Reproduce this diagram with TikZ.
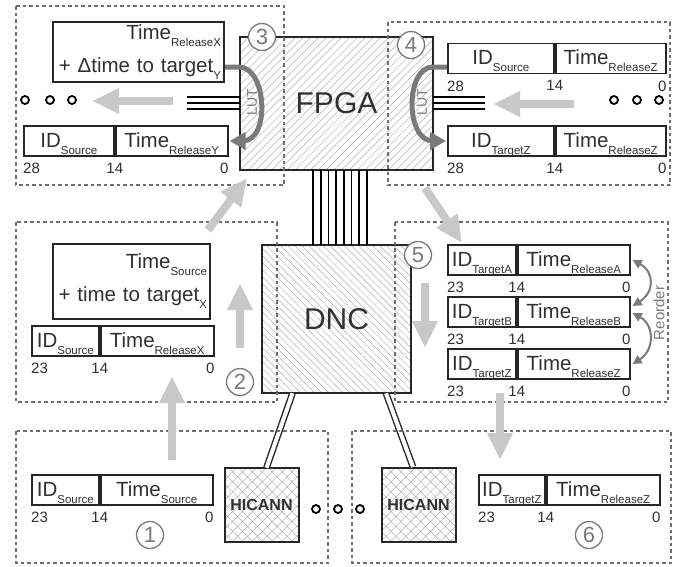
\documentclass[tikz,border=0pt]{standalone}
\usepackage{fontspec}
\setmainfont{Liberation Sans}
\usetikzlibrary{arrows.meta, patterns.meta, calc}
\definecolor{textgray}{HTML}{303030}
\definecolor{framegray}{HTML}{6E6E6E}
\definecolor{arrowgray}{HTML}{C8C8C8}
\definecolor{lutgray}{HTML}{7A7A7A}
\definecolor{hatchgray}{HTML}{B0B0B0}

\newcommand{\lowsub}[1]{\raisebox{-7pt}{\fontsize{11.5}{11.5}\selectfont #1}}
% bit positions under a record: name, id cell, time cell, top bit
\newcommand{\bitrow}[4]{%
  \node[bitnum, anchor=north west] (#1-hi) at ([yshift=-6pt]#2.south west) {#4};
  \node[bitnum, anchor=north] (#1-mid) at ([yshift=-6pt]#2.south east) {14};
  \node[bitnum, anchor=north east] (#1-lo) at ([yshift=-6pt]#3.south east) {0};}

\begin{document}
\begin{tikzpicture}[x=1pt, y=-1pt,
    chip/.style={draw=black!85, line width=2pt, pattern color=hatchgray,
                 inner sep=0pt, text=textgray},
    region/.style={draw=framegray, line width=2.6pt, dash pattern=on 3.5pt off 3pt},
    cell/.style={draw=black!85, line width=1.8pt, minimum height=30pt, inner sep=0pt,
                 text height=18pt, text depth=6pt, text=textgray, anchor=west,
                 font=\fontsize{20.5}{20.5}\selectfont},
    bitnum/.style={inner sep=0pt, text=textgray, font=\fontsize{15}{15}\selectfont},
    calcbox/.style={draw=black!85, line width=1.8pt, inner sep=0pt, align=right,
                    text=textgray, font=\fontsize{20.5}{33}\selectfont},
    numcirc/.style={circle, draw=lutgray, line width=1.3pt, fill=white, minimum size=27pt,
                    inner sep=0pt, text=lutgray, font=\fontsize{22}{22}\selectfont},
    bigarrow/.style={draw=arrowgray, line width=8pt, -{Triangle[length=27pt, width=24pt]}},
    lut/.style={draw=lutgray, line width=5pt, -{Triangle[length=16pt, width=17pt]}},
    reorder/.style={draw=lutgray, line width=2pt,
                    {Triangle[length=9pt, width=9pt]}-{Triangle[length=9pt, width=9pt]}},
    wire/.style={draw=black, line width=2pt},
    link/.style={draw=black!85, double=white, double distance=4pt, line width=1.4pt},
    ring/.style={circle, draw=black, line width=1.8pt, minimum size=8pt, inner sep=0pt},
    lutlabel/.style={rotate=90, text=lutgray, inner sep=0pt, font=\fontsize{14}{14}\selectfont},
  ]
  \useasboundingbox (0,0) rectangle (679,566);

  % chips
  \node[chip, minimum width=193pt, minimum height=133pt, font=\fontsize{30}{30}\selectfont,
        pattern={Lines[angle=45, distance=5.5pt, line width=0.5pt]}] (fpga) at (336.5,103.5) {FPGA};
  \node[chip, minimum width=149pt, minimum height=148pt, font=\fontsize{30}{30}\selectfont,
        pattern={Lines[angle=-45, distance=5pt, line width=0.5pt]}] (dnc) at (336.5,319) {DNC};
  \node[chip, minimum size=74pt, font=\fontsize{16}{16}\selectfont\bfseries,
        pattern={Hatch[angle=45, distance=7pt, line width=0.5pt]}] (hic1) at (261.5,505) {HICANN};
  \node[chip, minimum size=74pt, font=\fontsize{16}{16}\selectfont\bfseries,
        pattern={Hatch[angle=45, distance=7pt, line width=0.5pt]}] (hic2) at (418.5,505) {HICANN};

  % buses
  \foreach \i in {0,...,7}
    \draw[wire, line width=1.6pt] ($(fpga.south)+(-23.5+\i*7.714,0)$) -- ($(dnc.north)+(-23.5+\i*7.714,0)$);
  \draw[link] ($(dnc.south)+(-44,0)$) -- ($(hic1.north)+(5,0)$);
  \draw[link] ($(dnc.south)+(49.5,0)$) -- ($(hic2.north)+(-5.5,0)$);
  \foreach \y in {97,103,109} {
    \draw[wire] (187,\y) -- (fpga.west |- 0,\y);
    \draw[wire] (fpga.east |- 0,\y) -- (485,\y);
  }

  % regions
  \draw[region] (16,6) rectangle (284,185);
  \draw[region] (388,22) rectangle (670,185);
  \draw[region] (16,222) rectangle (277,402);
  \draw[region] (395,222) rectangle (668,402);
  \draw[region] (16,431) rectangle (328,563);
  \draw[region] (352,431) rectangle (671,563);

  % region 3
  \node[calcbox, minimum width=171pt, minimum height=60pt, text width=165pt] (calc3) at (138.5,52)
    {Time\lowsub{ReleaseX}\\+ Δtime to target\lowsub{Y}};
  \node[cell, minimum width=90pt] (id3) at (23,141) {ID\lowsub{Source}};
  \node[cell, minimum width=112pt] (tm3) at (id3.east) {Time\lowsub{ReleaseY}};
  \bitrow{b3}{id3}{tm3}{28}
  \foreach \x [count=\k] in {25,50,72}
    \node[ring] (d3-\k) at (\x,100) {};

  % region 4
  \node[cell, minimum width=106pt] (id4a) at (447,58.5) {ID\lowsub{Source}};
  \node[cell, minimum width=110pt] (tm4a) at (id4a.east) {Time\lowsub{ReleaseZ}};
  \bitrow{b4a}{id4a}{tm4a}{28}
  \node[cell, minimum width=106pt] (id4b) at (447,141) {ID\lowsub{TargetZ}};
  \node[cell, minimum width=110pt] (tm4b) at (id4b.east) {Time\lowsub{ReleaseZ}};
  \bitrow{b4b}{id4b}{tm4b}{28}
  \foreach \x [count=\k] in {614,637,659}
    \node[ring] (d4-\k) at (\x,100) {};

  % region 2
  \node[calcbox, minimum width=157pt, minimum height=75pt, text width=151pt] (calc2) at (131.5,281.5)
    {Time\lowsub{Source}\\+ time to target\lowsub{X}};
  \node[cell, minimum width=67pt] (id2) at (31,341) {ID\lowsub{Source}};
  \node[cell, minimum width=113pt] (tm2) at (id2.east) {Time\lowsub{ReleaseX}};
  \bitrow{b2}{id2}{tm2}{23}

  % region 5
  \node[cell, minimum width=68pt] (idA) at (447,260) {ID\lowsub{TargetA}};
  \node[cell, minimum width=112pt] (tmA) at (idA.east) {Time\lowsub{ReleaseA}};
  \bitrow{bA}{idA}{tmA}{23}
  \node[cell, minimum width=68pt] (idB) at (447,312) {ID\lowsub{TargetB}};
  \node[cell, minimum width=112pt] (tmB) at (idB.east) {Time\lowsub{ReleaseB}};
  \bitrow{bB}{idB}{tmB}{23}
  \node[cell, minimum width=68pt] (idZ) at (447,364) {ID\lowsub{TargetZ}};
  \node[cell, minimum width=112pt] (tmZ) at (idZ.east) {Time\lowsub{ReleaseZ}};
  \bitrow{bZ}{idZ}{tmZ}{23}

  % region 1
  \node[cell, minimum width=67pt] (id1) at (31,490) {ID\lowsub{Source}};
  \node[cell, minimum width=112pt] (tm1) at (id1.east) {Time\lowsub{Source}};
  \bitrow{b1}{id1}{tm1}{23}

  % region 6
  \node[cell, minimum width=66pt] (id6) at (478,490) {ID\lowsub{TargetZ}};
  \node[cell, minimum width=113pt] (tm6) at (id6.east) {Time\lowsub{ReleaseZ}};
  \bitrow{b6}{id6}{tm6}{23}

  \foreach \x [count=\k] in {316,338,360}
    \node[ring] (dh-\k) at (\x,509) {};

  % LUT lookups
  \draw[lut] ([yshift=-15pt]calc3.east) -- ++(14,0) .. controls +(28,0) and +(28,0) ..
    ([xshift=14pt]tm3.east) -- ([xshift=1pt]tm3.east);
  \draw[lut] ([yshift=-8.5pt]id4a.west) -- ++(-14,0) .. controls +(-28,0) and +(-28,0) ..
    ([xshift=-14pt]id4b.west) -- ([xshift=-1pt]id4b.west);
  \node[lutlabel] (lut3) at (252,102) {LUT};
  \node[lutlabel] (lut4) at (422,102) {LUT};

  % reordering
  \draw[reorder] ([xshift=2pt]tmA.east) .. controls +(22,12) and +(22,-14) .. ([xshift=2pt, yshift=6pt]tmB.east);
  \draw[reorder] ([xshift=2pt, yshift=-1pt]tmB.east) .. controls +(22,12) and +(22,-14) .. ([xshift=2pt]tmZ.east);
  \node[lutlabel, font=\fontsize{15}{15}\selectfont] (reord) at (659,313) {Reorder};

  % data flow
  \coordinate (f1s) at (172,460); \coordinate (f1e) at (172,376);
  \coordinate (f2s) at (240,348); \coordinate (f2e) at (240,283);
  \coordinate (f23s) at (208,230); \coordinate (f23e) at (247,178);
  \coordinate (f3s) at (173,101); \coordinate (f3e) at (92,101);
  \coordinate (f4s) at (574,104); \coordinate (f4e) at (493,104);
  \coordinate (f45s) at (425,188); \coordinate (f45e) at (462,243);
  \coordinate (f5s) at (425,283); \coordinate (f5e) at (425,348);
  \coordinate (f56s) at (500,393); \coordinate (f56e) at (500,460);
  \foreach \a/\b in {f1s/f1e, f2s/f2e, f23s/f23e, f3s/f3e, f4s/f4e, f45s/f45e, f5s/f5e, f56s/f56e}
    \draw[bigarrow] (\a) -- (\b);

  % steps
  \node[numcirc] (n1) at (150,535) {1};
  \node[numcirc] (n2) at (240,382) {2};
  \node[numcirc] (n3) at (262,37) {3};
  \node[numcirc] (n4) at (411,45) {4};
  \node[numcirc] (n5) at (418,255) {5};
  \node[numcirc] (n6) at (589,535) {6};
\end{tikzpicture}
\end{document}
